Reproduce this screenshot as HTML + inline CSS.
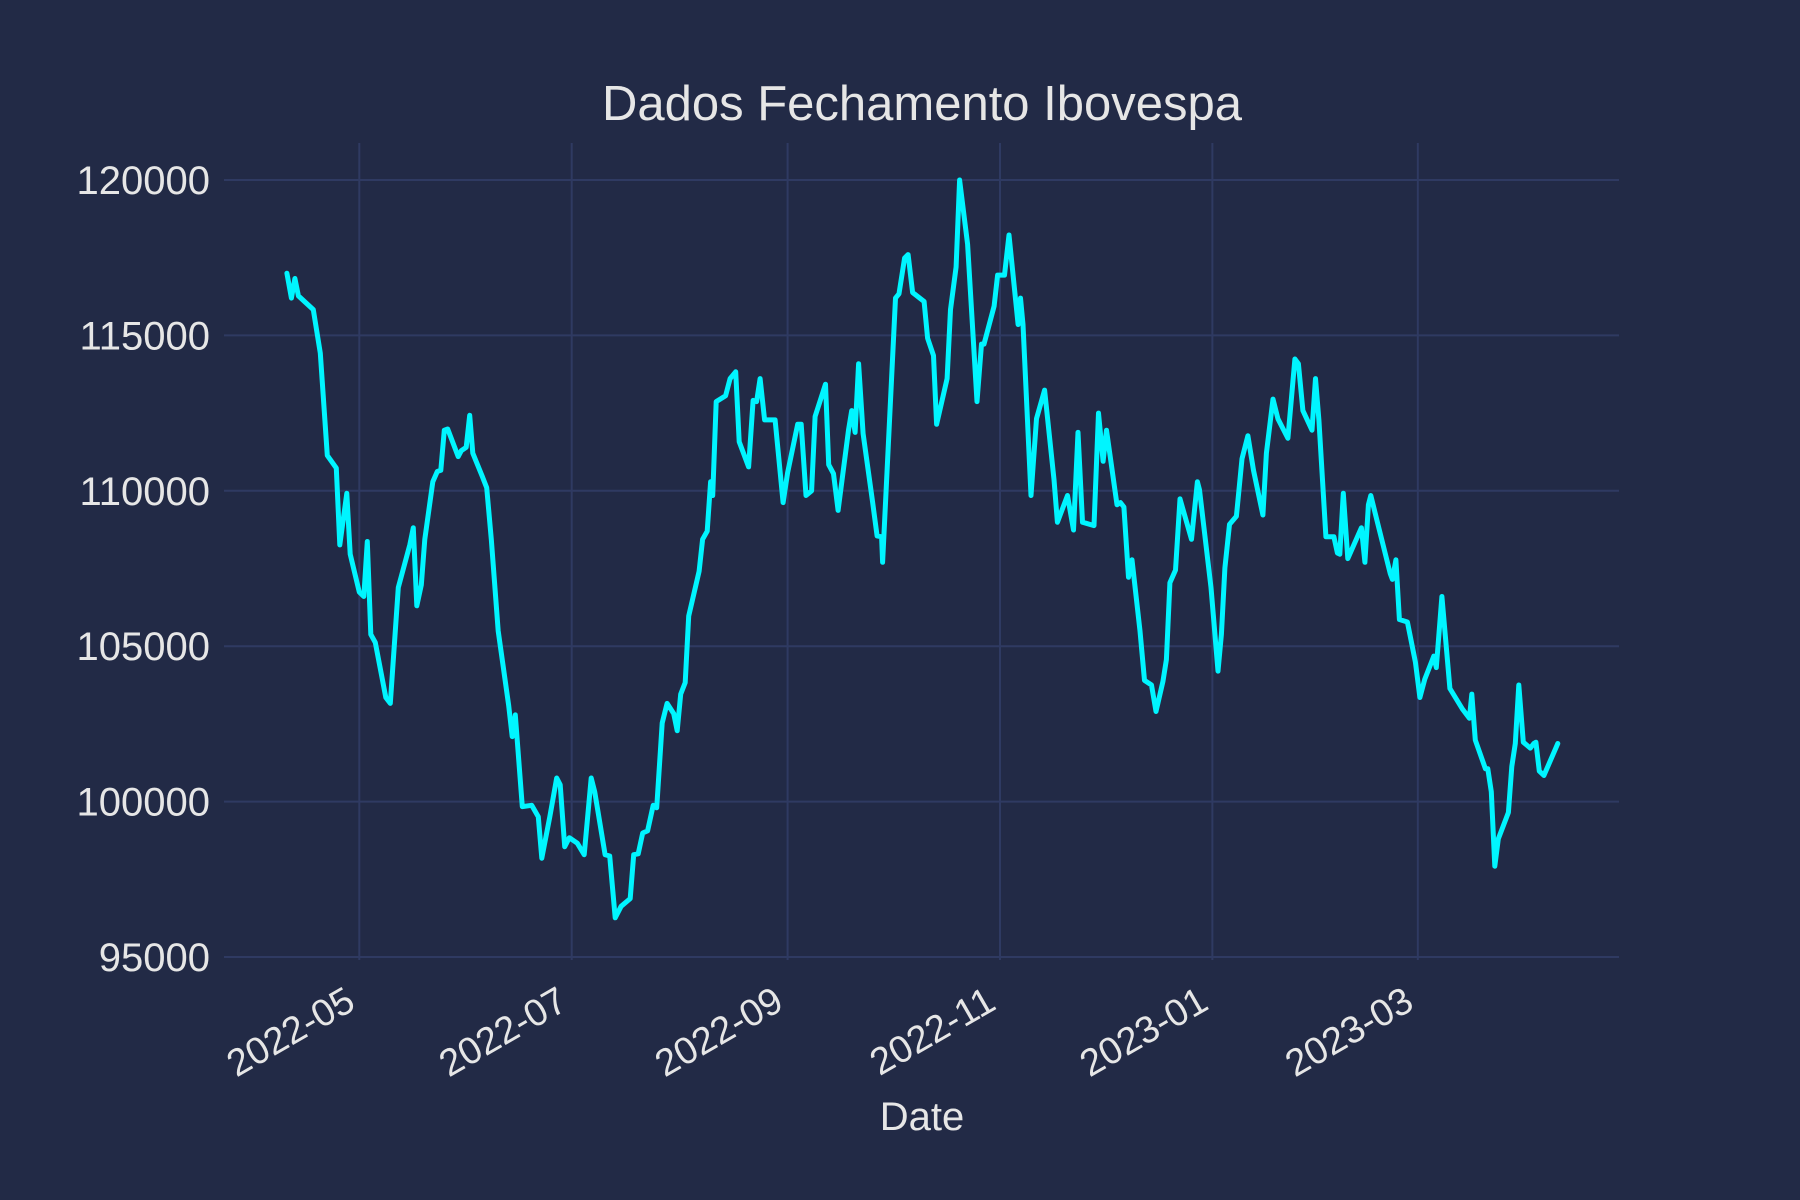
<!DOCTYPE html>
<html><head><meta charset="utf-8"><style>
html,body{margin:0;padding:0;background:#222a46;}
svg{display:block;font-family:"Liberation Sans",sans-serif;}
</style></head><body>
<svg id="chart" width="1800" height="1200" viewBox="0 0 1800 1200">
<rect x="0" y="0" width="1800" height="1200" fill="#222a46"/>
<text x="922" y="120" text-anchor="middle" font-size="49" fill="#e6e6e6">Dados Fechamento Ibovespa</text>
<g id="grid"></g>
<g id="yticks"></g>
<g id="xticks"></g>
<text x="922" y="1130" text-anchor="middle" font-size="40" fill="#e6e6e6">Date</text>
<g id="series"></g>
</svg>
<script>
// Days since 2022-05-01
const dayOffsets = [-20.8,-19.5,-18.5,-17.5,-13.2,-11.2,-9.2,-6.6,-5.6,-3.6,-2.6,0,1.3,2.3,3.3,4.6,7.6,8.9,11.2,14.5,15.5,16.5,17.8,18.8,21.1,22.4,23.4,24.4,25.4,28.4,29.3,30.7,31.7,32.6,35.3,36.6,37.9,39.9,42.9,43.9,44.8,46.8,49.5,51.4,52.4,54.7,56.7,57.7,59.0,60.3,62.6,64.6,66.6,67.6,70.6,71.9,73.5,75.2,77.8,78.8,80.1,81.4,82.8,84.4,85.4,87.0,88.4,90.3,91.3,92.3,93.6,94.6,97.6,98.6,99.9,100.9,101.5,102.5,105.2,106.5,108.1,109.1,111.8,113.1,114.1,115.1,116.4,119.4,121.7,123.0,125.9,126.9,128.3,129.9,130.9,133.9,134.8,136.2,137.5,140.5,141.4,142.4,143.4,144.7,147.4,148.7,150.0,150.3,154.0,155.0,156.6,157.6,158.9,162.2,163.2,164.9,165.8,168.8,169.8,171.4,172.4,174.7,177.4,178.7,179.4,182.3,183.3,185.3,186.6,189.2,189.9,190.6,192.9,194.5,196.8,199.5,200.5,203.4,205.1,206.4,207.7,211.0,212.3,213.6,214.6,217.6,218.6,219.6,220.9,221.9,224.2,225.5,227.5,228.8,230.8,231.8,232.8,234.4,235.7,239.0,240.7,241.3,244.6,246.6,247.6,248.6,249.9,251.9,253.5,255.2,256.8,259.5,260.5,262.4,263.8,266.7,268.7,269.7,271.0,273.6,274.6,275.6,277.6,279.9,280.9,281.6,282.6,283.9,287.8,288.8,289.8,290.5,292.4,296.1,296.7,297.7,298.7,301.0,303.3,304.6,306.0,308.6,309.3,310.9,313.2,316.8,318.8,319.5,320.5,323.4,324.1,325.1,326.1,327.1,330.0,331.0,332.0,333.0,334.3,336.3,337.3,337.9,338.9,340.2,344.2];
const closeValues = [117000,116200,116830,116270,115830,114430,111140,110730,108260,109920,107960,106740,106600,108370,105380,105120,103350,103160,106890,108260,108810,106300,106970,108440,110290,110620,110660,111950,111990,111100,111290,111400,112430,111210,110470,110100,108440,105490,103090,102090,102790,99840,99880,99510,98180,99510,100760,100540,98550,98840,98660,98290,100760,100320,98290,98250,96260,96630,96880,98290,98320,98990,99060,99880,99800,102530,103160,102830,102280,103460,103830,105970,107410,108440,108700,110290,109850,112870,113060,113610,113830,111580,110770,112910,112870,113610,112280,112280,109620,110580,112140,112140,109850,110000,112390,113430,110840,110550,109370,111950,112580,111880,114090,111840,109660,108550,108520,107700,116200,116340,117490,117600,116380,116090,114910,114350,112140,113610,115830,117200,120000,117930,112870,114720,114720,115940,116940,116940,118230,115350,116200,115350,109850,112320,113240,110360,108990,109850,108740,111880,108990,108880,112500,110950,111950,109550,109620,109480,107220,107780,105490,103900,103750,102900,103860,104570,107040,107450,109740,108440,110290,110030,106890,104200,105380,107520,108920,109180,111030,111770,110660,109220,111210,112950,112320,111690,114240,114090,112580,111950,113610,112280,108520,108520,108000,107960,109920,107820,108810,107700,109550,109850,108990,107330,107150,107780,105860,105780,104490,103350,103940,104680,104310,106600,103640,102980,102680,103460,101980,101060,101060,100320,97920,98800,99650,101130,101870,103750,101910,101720,101870,101910,100980,100840,101870];
const yTickValues = [95000,100000,105000,110000,115000,120000];
const xTickLabels = ["2022-05","2022-07","2022-09","2022-11","2023-01","2023-03"];
const xTickDays = [0,61,123,184,245,304];

const NS="http://www.w3.org/2000/svg";
const L=224,R=1619,T=143,B=960;
const x=d=>359.3+d*3.482;
const y=v=>180+(120000-v)*(957-180)/25000;
function mk(tag,attrs,parent){const e=document.createElementNS(NS,tag);for(const k in attrs)e.setAttribute(k,attrs[k]);parent.appendChild(e);return e;}
const grid=document.getElementById('grid'),yt=document.getElementById('yticks'),xt=document.getElementById('xticks'),ser=document.getElementById('series');
yTickValues.forEach(v=>{
  const g=mk('line',{x1:L,x2:R,y1:y(v),y2:y(v),stroke:'#2f3a62','stroke-width':2},grid);
  
  
  const t=mk('text',{x:210,y:y(v)+14,'text-anchor':'end','font-size':40,fill:'#e6e6e6'},yt);
  t.textContent=v;
  
  
});
xTickDays.forEach((d,i)=>{
  const g=mk('line',{x1:x(d),x2:x(d),y1:T,y2:B,stroke:'#2f3a62','stroke-width':2},grid);
  
  
  const t=mk('text',{x:0,y:0,'text-anchor':'end','font-size':38,fill:'#e6e6e6',transform:`translate(${x(d)-2},${1008}) rotate(-30)`},xt);
  t.textContent=xTickLabels[i];
  
  
});
const pts=dayOffsets.map((d,i)=>x(d).toFixed(1)+','+y(closeValues[i]).toFixed(1)).join(' ');
const pl=mk('polyline',{points:pts,fill:'none',stroke:'#00f5ff','stroke-width':5,'stroke-linejoin':'round','stroke-linecap':'round'},ser);


</script>
</body></html>
